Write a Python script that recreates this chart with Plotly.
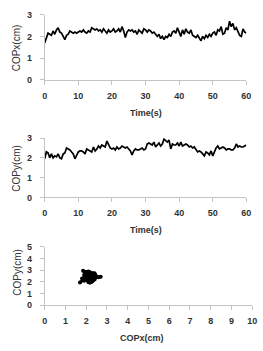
import plotly.graph_objects as go

W, H = 263, 351

cop_x = [1.70,1.95,2.15,2.10,2.05,2.25,2.10,2.30,2.40,2.20,2.15,
         2.00,1.85,2.05,2.10,2.25,2.20,2.15,2.20,2.15,2.20,
         2.25,2.20,2.30,2.20,2.15,2.25,2.20,2.40,2.35,2.30,
         2.35,2.25,2.30,2.20,2.35,2.25,2.15,2.30,2.20,2.25,
         2.35,2.20,2.25,2.35,2.20,2.45,2.25,1.95,2.20,2.30,
         2.25,2.30,2.20,2.25,2.10,2.30,2.20,2.15,2.35,2.30,
         2.20,2.30,2.25,2.15,2.20,2.10,2.00,2.10,1.90,2.00,
         1.85,2.00,1.95,2.10,2.00,2.20,2.25,2.15,2.40,2.20,
         2.00,2.30,2.10,2.35,2.20,2.15,2.30,2.05,2.00,1.95,
         2.05,1.90,1.80,2.00,1.90,2.05,1.95,2.10,2.00,2.15,
         2.20,2.05,2.30,2.25,2.45,2.10,2.15,2.40,2.30,2.70,
         2.45,2.60,2.30,2.40,2.25,2.05,2.00,2.35,2.20,2.15]

cop_y = [1.95,2.30,2.25,2.00,2.20,2.00,2.10,2.05,2.20,2.00,1.95,
         2.20,2.25,2.50,2.45,2.40,2.30,2.20,1.95,2.10,2.30,
         2.35,2.35,2.30,2.20,2.45,2.40,2.35,2.30,2.55,2.35,
         2.45,2.60,2.50,2.65,2.60,2.55,2.85,2.70,2.50,2.45,
         2.50,2.40,2.55,2.45,2.50,2.60,2.55,2.50,2.55,2.45,
         2.35,2.15,2.35,2.45,2.40,2.40,2.45,2.50,2.40,2.45,
         2.70,2.75,2.70,2.65,2.80,2.55,2.65,2.75,2.60,2.70,
         2.95,2.85,2.80,2.90,2.45,2.70,2.65,2.65,2.75,2.60,
         2.80,2.60,2.65,2.70,2.65,2.55,2.60,2.50,2.55,2.45,
         2.30,2.35,2.30,2.20,2.10,2.30,2.25,2.15,2.35,2.10,
         2.30,2.50,2.60,2.45,2.50,2.55,2.50,2.40,2.45,2.45,
         2.40,2.40,2.50,2.70,2.55,2.60,2.55,2.55,2.60,2.65]

time_s = [i * 0.5 for i in range(len(cop_x))]

x_ticks_time = [0, 10, 20, 30, 40, 50, 60]
y_ticks_3 = [0, 1, 2, 3]
x_ticks_xy = list(range(0, 11))
y_ticks_xy = [0, 1, 2, 3, 4, 5]

FONT = "Liberation Sans, Arial, sans-serif"

fig = go.Figure()
fig.add_trace(go.Scatter(x=time_s, y=cop_x, mode="lines",
                         line=dict(color="black", width=1.7),
                         xaxis="x", yaxis="y", showlegend=False))
fig.add_trace(go.Scatter(x=time_s, y=cop_y, mode="lines",
                         line=dict(color="black", width=1.7),
                         xaxis="x2", yaxis="y2", showlegend=False))
fig.add_trace(go.Scatter(x=cop_x, y=cop_y, mode="lines+markers",
                         line=dict(color="black", width=3),
                         marker=dict(color="black", size=4),
                         xaxis="x3", yaxis="y3", showlegend=False))

def px_x(p):
    return p / W

def px_y(p):
    return 1 - p / H

axcommon = dict(showgrid=False, zeroline=False, showline=True,
                linecolor="#c4c4c4", linewidth=1, ticks="outside",
                ticklen=4, tickcolor="#c4c4c4",
                tickfont=dict(family=FONT, size=9, color="#333", weight="bold"))

fig.update_layout(
    width=W, height=H, margin=dict(l=0, r=0, t=0, b=0),
    paper_bgcolor="white", plot_bgcolor="white",
    xaxis=dict(domain=[px_x(43), px_x(251)], range=[0, 60], tickvals=x_ticks_time,
               anchor="y", ticklabelstandoff=3, **axcommon),
    yaxis=dict(domain=[px_y(77), px_y(10)], range=[0, 3], tickvals=y_ticks_3,
               anchor="x", ticklabelstandoff=6, **axcommon),
    xaxis2=dict(domain=[px_x(43), px_x(251)], range=[0, 60], tickvals=x_ticks_time,
                anchor="y2", ticklabelstandoff=3, **axcommon),
    yaxis2=dict(domain=[px_y(198), px_y(137)], range=[0, 3], tickvals=y_ticks_3,
                anchor="x2", ticklabelstandoff=6, **axcommon),
    xaxis3=dict(domain=[px_x(43), px_x(257)], range=[0, 10], tickvals=x_ticks_xy,
                anchor="y3", ticklabelstandoff=3, **axcommon),
    yaxis3=dict(domain=[px_y(309), px_y(249)], range=[0, 5], tickvals=y_ticks_xy,
                anchor="x3", ticklabelstandoff=6, **axcommon),
)

titles = [
    ("Time(s)", 147, 111, 0, "bold", 9),
    ("Time(s)", 147, 232, 0, "bold", 9),
    ("COPx(cm)", 143, 343, 0, "bold", 9),
    ("COPx(cm)", 14, 44, -90, "normal", 10),
    ("COPy(cm)", 14, 168, -90, "normal", 10),
    ("COPy(cm)", 15, 275, -90, "normal", 10),
]
for text, x, y, ang, wt, sz in titles:
    fig.add_annotation(text=text, x=px_x(x), y=px_y(y), xref="paper", yref="paper",
                       showarrow=False, textangle=ang, xanchor="center", yanchor="middle",
                       font=dict(family=FONT, size=sz, color="#333", weight=wt))

fig.write_html("out.html")
